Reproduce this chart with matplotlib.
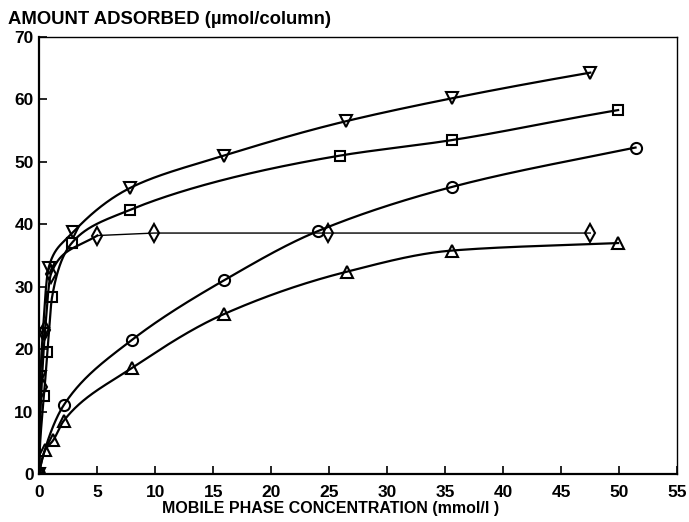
import numpy as np
import matplotlib
matplotlib.use("Agg")
import matplotlib.pyplot as plt

# data (mmol/l, umol/column)
tri_down_x = [0, 0.1, 0.3, 0.8, 2.9, 7.8, 15.9, 26.4, 35.6, 47.5]
tri_down_y = [0, 15.5, 22.5, 33.0, 38.7, 45.8, 51.0, 56.5, 60.2, 64.3]

square_x = [0, 0.4, 0.7, 1.1, 2.8, 7.8, 25.9, 35.6, 49.9]
square_y = [0, 12.5, 19.5, 28.3, 37.0, 42.3, 51.0, 53.5, 58.3]

diamond_x = [0, 0.2, 0.5, 1.0, 5.0, 9.9, 24.9, 47.5]
diamond_y = [0, 14.0, 23.0, 32.0, 38.2, 38.6, 38.6, 38.6]

circle_x = [0, 2.1, 8.0, 15.9, 24.0, 35.6, 51.4]
circle_y = [0, 11.0, 21.5, 31.0, 38.9, 46.0, 52.3]

tri_up_x = [0, 0.5, 1.2, 2.1, 8.0, 15.9, 26.5, 35.6, 49.9]
tri_up_y = [0, 3.8, 5.4, 8.5, 17.0, 25.6, 32.4, 35.8, 37.0]


def pchip(x, y, xs):
    # monotone cubic hermite curve through the points
    x = np.asarray(x, float)
    y = np.asarray(y, float)
    h = np.diff(x)
    d = np.diff(y) / h
    m = np.zeros_like(y)
    for k in range(1, len(x) - 1):
        if d[k - 1] * d[k] > 0:
            w1 = 2 * h[k] + h[k - 1]
            w2 = h[k] + 2 * h[k - 1]
            m[k] = (w1 + w2) / (w1 / d[k - 1] + w2 / d[k])
    m[0] = d[0]
    m[-1] = d[-1]
    idx = np.clip(np.searchsorted(x, xs) - 1, 0, len(x) - 2)
    t = (xs - x[idx]) / h[idx]
    h00 = 2 * t**3 - 3 * t**2 + 1
    h10 = t**3 - 2 * t**2 + t
    h01 = -2 * t**3 + 3 * t**2
    h11 = t**3 - t**2
    return (h00 * y[idx] + h10 * h[idx] * m[idx]
            + h01 * y[idx + 1] + h11 * h[idx] * m[idx + 1])


def smooth_curve(x, y, p, n=800):
    # pchip in x**p space gives a smoother isotherm-like line
    u = np.asarray(x, float) ** p
    uu = np.linspace(0, u.max(), n)
    return uu ** (1 / p), pchip(u, y, uu)


plt.rcParams['font.family'] = ['Liberation Sans', 'DejaVu Sans']
plt.rcParams['font.weight'] = 'bold'

fig = plt.figure(figsize=(6.89, 5.22), dpi=100)
ax = fig.add_axes([0.057, 0.092, 0.926, 0.837])

mk = dict(color='black', markerfacecolor='none', markeredgecolor='black',
          markeredgewidth=1.5, linestyle='none', zorder=3)

for xs_, ys_, m, ms, p in [(tri_down_x, tri_down_y, 'v', 9, 0.5),
                           (square_x, square_y, 's', 7, 0.5),
                           (circle_x, circle_y, 'o', 8, 0.75),
                           (tri_up_x, tri_up_y, '^', 9, 0.75)]:
    cx, cy = smooth_curve(xs_, ys_, p)
    ax.plot(cx, cy, color='black', lw=1.6)
    ax.plot(xs_, ys_, marker=m, markersize=ms, **mk)

# diamond series: steep rise, then straight thin segments
cx, cy = smooth_curve(diamond_x[:5], diamond_y[:5], 0.5)
ax.plot(cx, cy, color='black', lw=1.6)
ax.plot(diamond_x[4:], diamond_y[4:], color='black', lw=1.0)
ax.plot(diamond_x, diamond_y, marker='d', markersize=9, **mk)

ax.set_xlim(0, 55)
ax.set_ylim(0, 70)
ax.set_xticks(np.arange(0, 56, 5))
ax.set_yticks(np.arange(0, 71, 10))
ax.tick_params(direction='in', length=6, width=1.2, labelsize=12.5)
ax.tick_params(axis='x', pad=8)
ax.tick_params(axis='y', pad=4)
for lab in ax.get_xticklabels() + ax.get_yticklabels():
    lab.set_fontweight('bold')
for s in ['left', 'bottom']:
    ax.spines[s].set_linewidth(1.6)
for s in ['top', 'right']:
    ax.spines[s].set_linewidth(1.0)

ax.set_xlabel("MOBILE PHASE CONCENTRATION (mmol/l )", fontsize=11.5,
              fontweight='bold')
ax.xaxis.set_label_coords(0.456, -0.062)
fig.text(0.012, 0.962, "AMOUNT ADSORBED (µmol/column)", fontsize=13.3,
         fontweight='bold', ha='left', va='center')

fig.savefig("out.png", dpi=100)
